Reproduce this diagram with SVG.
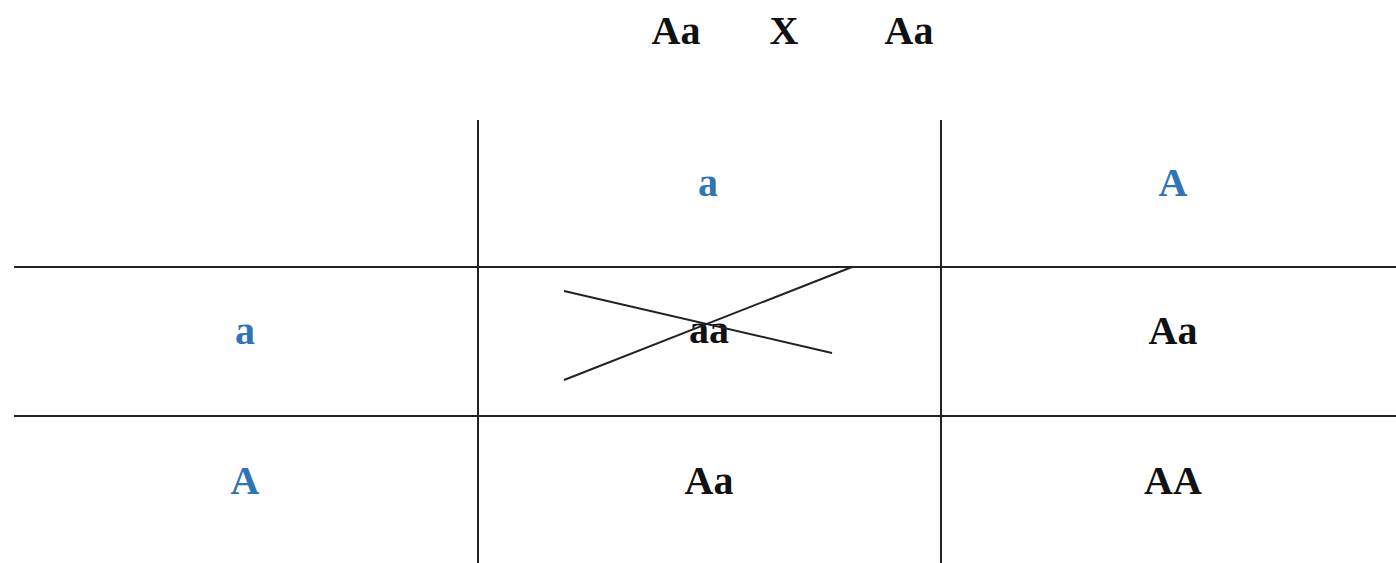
<svg xmlns="http://www.w3.org/2000/svg" width="1396" height="563" viewBox="0 0 1396 563">
<style>
.t{font-family:"Liberation Serif","Times New Roman",serif;font-weight:bold;font-size:40px;text-anchor:middle;fill:#111}
.b{fill:#2e75b6}
.g{stroke:#222;stroke-width:2;fill:none}
</style>
<rect width="1396" height="563" fill="#fff"/>
<g id="cross-title">
<text class="t" x="676" y="44">Aa</text>
<text class="t" x="784" y="44">X</text>
<text class="t" x="909" y="44">Aa</text>
</g>
<g id="grid">
<line class="g" x1="14" y1="267" x2="1396" y2="267"/>
<line class="g" x1="14" y1="416" x2="1396" y2="416"/>
<line class="g" x1="478" y1="120" x2="478" y2="563"/>
<line class="g" x1="941" y1="120" x2="941" y2="563"/>
</g>
<g id="headers">
<text class="t b" x="708" y="196">a</text>
<text class="t b" x="1173" y="196">A</text>
<text class="t b" x="245" y="344">a</text>
<text class="t b" x="245" y="494">A</text>
</g>
<g id="cells">
<text class="t" x="709" y="343">aa</text>
<text class="t" x="1173" y="344">Aa</text>
<text class="t" x="709" y="494">Aa</text>
<text class="t" x="1173" y="494">AA</text>
</g>
<g id="strike">
<line class="g" x1="564" y1="291" x2="832" y2="353"/>
<line class="g" x1="564" y1="380" x2="852" y2="267"/>
</g>
</svg>
